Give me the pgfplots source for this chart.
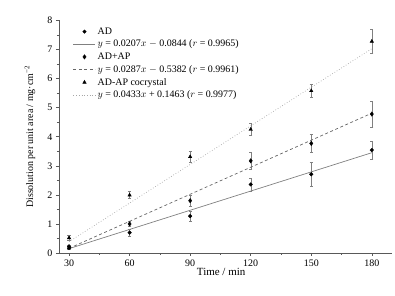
\documentclass[border=0pt]{standalone}
\usepackage{pgfplots}
\pgfplotsset{compat=1.18}
\usepackage{fontspec}
\setmainfont{Liberation Serif}
\begin{document}
\begin{tikzpicture}
\begin{axis}[
  scale only axis, width=333bp, height=232.5bp,
  xmin=25, xmax=190, ymin=0, ymax=8,
  axis lines=left, axis line style={-, gray!70!black, line width=0.5pt},
  tick align=outside, tick style={gray!70!black, line width=0.5pt},
  major tick length=3bp, minor tick length=2bp,
  xtick={30,60,90,120,150,180}, minor x tick num=1,
  ytick={0,1,2,3,4,5,6,7,8}, minor y tick num=1,
  /pgf/number format/assume math mode=true,
  tick label style={font=\fontsize{10}{12}\selectfont},
  xlabel={Time / min},
  ylabel={Dissolution per unit area / mg·cm\textsuperscript{−2}},
  xlabel style={font=\fontsize{11}{13}\selectfont, at={(axis description cs:0.487,-0.082)}, anchor=center},
  ylabel style={font=\fontsize{10}{12}\selectfont, at={(axis description cs:-0.087,0.5)}, anchor=center},
  legend style={draw=none, fill=none, font=\fontsize{10}{11}\selectfont,
    at={(axis description cs:0.042,0.978)}, anchor=north west,
    row sep=0.8bp, inner sep=0pt, nodes={inner sep=1.8bp}},
  legend cell align=left,
  legend image code/.code={\draw[mark repeat=2, mark phase=2, #1] plot coordinates {(0bp,0bp) (11bp,0bp) (22bp,0bp)};},
  clip=false,
]
\path (axis description cs:-0.177,-0.181) rectangle (axis description cs:1.009,1.088);
% AD
\addplot[only marks, mark=*, mark size=1.8bp, black,
  error bars/.cd, y dir=both, y explicit, error bar style={gray, line width=0.4pt}, error mark options={gray, mark size=1.6bp, rotate=90}]
  table[x=x, y=y, y error=e] {
x y e
30 0.17 0.05
60 0.70 0.12
90 1.27 0.18
120 2.36 0.22
150 2.71 0.40
180 3.54 0.30
};
\addlegendentry{AD}
\addplot[gray, line width=0.7pt, no marks] coordinates {(30,0.15) (180,3.45)};
\addlegendentry{$y$ = 0.0207$x$ $-$ 0.0844 ($r$ = 0.9965)}
% AD+AP
\addplot[only marks, mark=diamond*, mark size=2.2bp, black,
  error bars/.cd, y dir=both, y explicit, error bar style={gray, line width=0.4pt}, error mark options={gray, mark size=1.6bp, rotate=90}]
  table[x=x, y=y, y error=e] {
x y e
30 0.22 0.06
60 1.00 0.08
90 1.80 0.18
120 3.17 0.29
150 3.77 0.30
180 4.78 0.45
};
\addlegendentry{AD+AP}
\addplot[gray!80!black, line width=0.7pt, dashed, dash pattern=on 3bp off 2.5bp, no marks] coordinates {(30,0.16) (180,4.81)};
\addlegendentry{$y$ = 0.0287$x$ $-$ 0.5382 ($r$ = 0.9961)}
% cocrystal
\addplot[only marks, mark=triangle*, mark size=2bp, black,
  error bars/.cd, y dir=both, y explicit, error bar style={gray, line width=0.4pt}, error mark options={gray, mark size=1.6bp, rotate=90}]
  table[x=x, y=y, y error=e] {
x y e
30 0.52 0.08
60 1.99 0.12
90 3.31 0.20
120 4.25 0.20
150 5.58 0.23
180 7.28 0.41
};
\addlegendentry{AD-AP cocrystal}
\addplot[gray!70, line width=0.7pt, dotted, no marks] coordinates {(30,0.39) (180,7.03)};
\addlegendentry{$y$ = 0.0433$x$ + 0.1463 ($r$ = 0.9977)}
\end{axis}
\end{tikzpicture}
\end{document}
